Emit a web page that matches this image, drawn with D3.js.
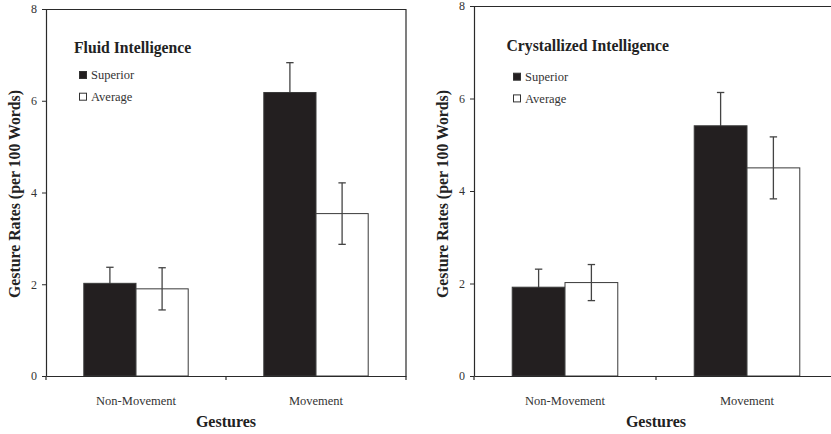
<!DOCTYPE html>
<html><head><meta charset="utf-8">
<script src="https://cdn.jsdelivr.net/npm/d3@7"></script>
<style>
html,body{margin:0;padding:0;background:#fff;overflow:hidden;}
text{font-family:"Liberation Serif","Times New Roman",serif;}
</style></head>
<body><svg id="chart" width="831" height="434"></svg>
<script>
const categories = ["Non-Movement", "Movement"];
const seriesNames = ["Superior", "Average"];
const yTicks = [0, 2, 4, 6, 8];

const fluidSuperior = [2.02, 6.18];
const fluidSuperiorErr = [0.35, 0.65];
const fluidAverage = [1.90, 3.54];
const fluidAverageErr = [0.46, 0.67];

const crystSuperior = [1.92, 5.41];
const crystSuperiorErr = [0.39, 0.72];
const crystAverage = [2.02, 4.50];
const crystAverageErr = [0.39, 0.67];

const panels = [
  {title: "Fluid Intelligence", values: [fluidSuperior, fluidAverage], errs: [fluidSuperiorErr, fluidAverageErr],
   x0: 46, x1: 406, y0: 376, y1: 9, titleX: 74, titleY: 52.7, legX: 79, legY: 71, ylabX: 19.5},
  {title: "Crystallized Intelligence", values: [crystSuperior, crystAverage], errs: [crystSuperiorErr, crystAverageErr],
   x0: 474, x1: 838, y0: 376, y1: 6, titleX: 506.5, titleY: 50.7, legX: 513, legY: 72.7, ylabX: 447.5}
];

const svg = d3.select("#chart");
const fills = ["#231f20", "#ffffff"];
const ink = "#2a2a2a";

panels.forEach(p => {
  const g = svg.append("g");
  const x = d3.scaleBand().domain(categories).range([p.x0, p.x1]).padding(0);
  const y = d3.scaleLinear().domain([0, 8]).range([p.y0, p.y1]);
  const bw = x.bandwidth() * 0.29;

  // frame (top and right)
  g.append("path")
    .attr("d", `M${p.x0},${y(8)+0.5}H${p.x1}V${p.y0}`)
    .attr("fill", "none").attr("stroke", ink).attr("stroke-width", 1.2);

  function drawErr(si) {
    categories.forEach((c, i) => {
      const cx = x(c) + x.bandwidth() / 2 - bw / 2 + si * bw;
      const v = p.values[si][i], e = p.errs[si][i];
      const eg = g.append("g").attr("stroke", "#444").attr("stroke-width", 1.3);
      eg.append("line").attr("x1", cx).attr("x2", cx).attr("y1", y(v + e)).attr("y2", y(v - e));
      eg.append("line").attr("x1", cx - 3.7).attr("x2", cx + 3.7).attr("y1", y(v + e)).attr("y2", y(v + e));
      eg.append("line").attr("x1", cx - 3.7).attr("x2", cx + 3.7).attr("y1", y(v - e)).attr("y2", y(v - e));
    });
  }
  function drawBars(si) {
    g.selectAll(null).data(categories).enter().append("rect")
      .attr("x", c => x(c) + x.bandwidth() / 2 - bw + si * bw)
      .attr("y", (c, i) => y(p.values[si][i]))
      .attr("width", bw)
      .attr("height", (c, i) => y(0) - y(p.values[si][i]))
      .attr("fill", fills[si])
      .attr("stroke", "#3a3a3a").attr("stroke-width", 1);
  }
  // Superior: error bars behind the dark bars; Average: error bars on top
  drawErr(0);
  drawBars(0);
  drawBars(1);
  drawErr(1);

  // y axis
  const ya = g.append("g").attr("transform", `translate(${p.x0},0)`)
    .call(d3.axisLeft(y).tickValues(yTicks).tickSize(4).tickPadding(5).tickSizeOuter(0));
  ya.attr("font-family", null);
  ya.select(".domain").attr("stroke", ink).attr("stroke-width", 1.2);
  ya.selectAll(".tick line").attr("stroke", ink);
  ya.selectAll(".tick text").attr("fill", "#333").style("font-size", "12px")
    .style("font-family", '"Liberation Serif", serif');

  // x axis
  const xa = g.append("g").attr("transform", `translate(0,${p.y0})`)
    .call(d3.axisBottom(x).tickSize(0).tickPadding(20));
  xa.attr("font-family", null);
  xa.select(".domain").attr("stroke", ink).attr("stroke-width", 1.2);
  xa.selectAll(".tick text").attr("fill", "#333").style("font-size", "12.5px")
    .style("font-family", '"Liberation Serif", serif');
  const bounds = [p.x0, p.x0 + x.bandwidth(), p.x1];
  g.selectAll(null).data(bounds).enter().append("line")
    .attr("x1", d => d).attr("x2", d => d).attr("y1", p.y0).attr("y2", p.y0 + 4)
    .attr("stroke", ink).attr("stroke-width", 1.2);

  // x label
  g.append("text").attr("x", (p.x0 + p.x1) / 2).attr("y", 427)
    .attr("text-anchor", "middle").attr("font-weight", "bold").attr("font-size", "16px")
    .attr("fill", "#222").text("Gestures");

  // y label
  g.append("text").attr("transform", `translate(${p.ylabX},194) rotate(-90)`)
    .attr("text-anchor", "middle").attr("font-weight", "bold").attr("font-size", "15.8px")
    .attr("fill", "#222").text("Gesture Rates (per 100 Words)");

  // title
  g.append("text").attr("x", p.titleX).attr("y", p.titleY)
    .attr("font-weight", "bold").attr("font-size", "15.7px").attr("fill", "#222").text(p.title);

  // legend
  seriesNames.forEach((s, si) => {
    const ly = p.legY + si * 21.7;
    g.append("rect").attr("x", p.legX + 0.5).attr("y", ly + 0.5).attr("width", 7).attr("height", 7)
      .attr("fill", fills[si]).attr("stroke", "#333").attr("stroke-width", 1);
    g.append("text").attr("x", p.legX + 12).attr("y", ly + 8.3)
      .attr("font-size", "12.5px").attr("fill", "#333").text(s);
  });
});
</script></body></html>
